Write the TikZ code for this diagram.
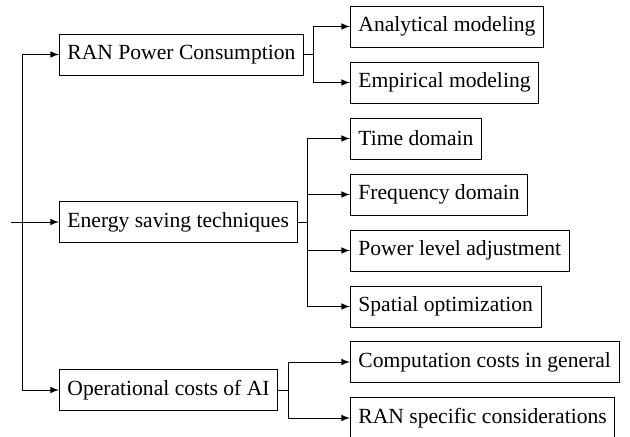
\documentclass[tikz,border=0pt]{standalone}
\usepackage{fontspec}
\setmainfont{Liberation Serif}
\usetikzlibrary{arrows}

\begin{document}
\begin{tikzpicture}[x=0.463pt,y=-0.463pt,
  box/.style={draw,anchor=west,minimum height=19pt,inner xsep=3.7pt,inner ysep=0pt},
  every path/.style={line width=0.4pt}]
\useasboundingbox (0,0) rectangle (630,437);
\coordinate (root) at (11,222);
\coordinate (trunk) at (22,222);
\node[box] (ran) at (59,54.5){RAN Power Consumption};
\node[box] (ene) at (59,222){Energy saving techniques};
\node[box] (ops) at (59,390){Operational costs of AI};
\node[box] (ana) at (350,26.5){Analytical modeling};
\node[box] (emp) at (350,82.5){Empirical modeling};
\node[box] (tim) at (350,138.5){Time domain};
\node[box] (fre) at (350,194.5){Frequency domain};
\node[box] (pow) at (350,250.5){Power level adjustment};
\node[box] (spa) at (350,306.5){Spatial optimization};
\node[box] (com) at (350,362){Computation costs in general};
\node[box] (rsc) at (350,418){RAN specific considerations};
\draw[-latex] (root) -- (ene);
\draw[-latex] (trunk) |- (ran);
\draw[-latex] (trunk) |- (ops);
\foreach \from/\to in {ran/ana,ran/emp,ene/tim,ene/fre,ene/pow,ene/spa,ops/com,ops/rsc}
  \draw[-latex] (\from.east) -- ++(10,0) |- (\to.west);
\end{tikzpicture}
\end{document}
